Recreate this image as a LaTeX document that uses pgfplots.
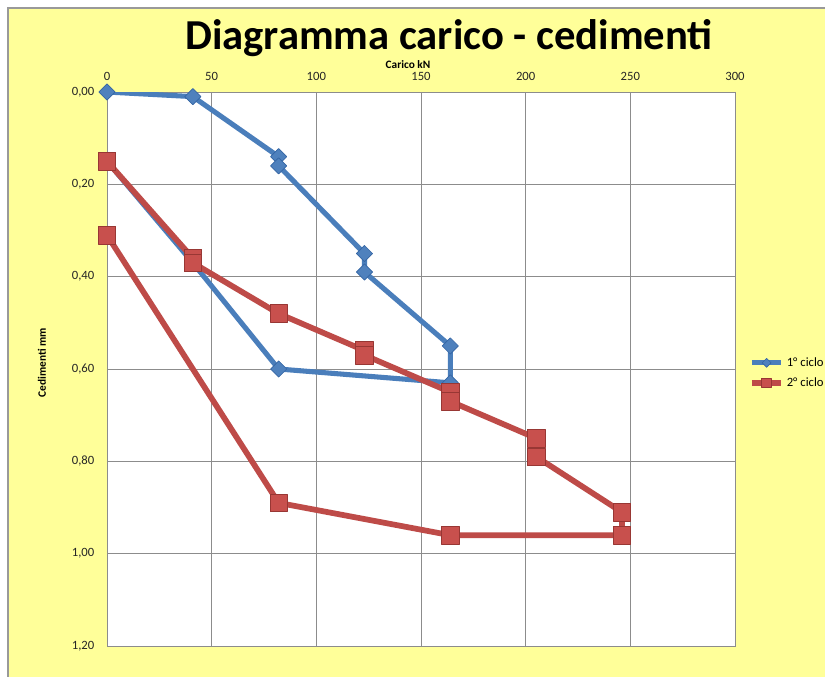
\documentclass[border=0pt]{standalone}
\usepackage{fontspec}
\setmainfont{Carlito}
\usepackage{pgfplots}
\pgfplotsset{compat=1.18}
\definecolor{chartyellow}{HTML}{FFFF99}
\definecolor{lineblue}{HTML}{4A7EBB}
\definecolor{markblue}{HTML}{4F81BD}
\definecolor{edgeblue}{HTML}{3465A4}
\definecolor{linered}{HTML}{BE4B48}
\definecolor{markred}{HTML}{C8504D}
\definecolor{edgered}{HTML}{983734}
\definecolor{gridgray}{HTML}{8C8C8C}
\begin{document}
\begin{tikzpicture}
\path[use as bounding box] (0,0) rectangle (618.75pt,507pt);
\filldraw[fill=chartyellow, draw=gray!80, line width=0.8pt] (6pt,-10pt) rectangle (630pt,501pt);
\node[anchor=base, inner sep=0pt, text depth=0pt, font=\fontsize{32}{38}\selectfont\bfseries] at (336.75pt,469.5pt) {Diagramma carico - cedimenti};
\node[anchor=base, inner sep=0pt, font=\fontsize{8.5}{10}\selectfont\bfseries] at (306pt,455.5pt) {Carico kN};
\node[rotate=90, anchor=center, font=\fontsize{8.5}{10}\selectfont\bfseries] at (31.5pt,235pt) {Cedimenti mm};
\begin{axis}[
  at={(80.25pt,22.5pt)}, anchor=south west,
  scale only axis, width=471pt, height=415.5pt,
  xmin=0, xmax=300, ymin=0, ymax=1.2,
  y dir=reverse,
  xtick={0,50,...,300},
  ytick={0,0.2,...,1.2},
  xticklabel pos=upper,
  major tick length=0pt,
  grid=major,
  grid style={gridgray, line width=0.6pt},
  axis line style={gridgray, line width=0.6pt},
  axis background/.style={fill=white},
  tick label style={font=\fontsize{9.5}{11}\selectfont, text=black!85},
  /pgf/number format/assume math mode=true,
  xticklabel style={yshift=8pt, inner sep=0pt},
  yticklabel style={xshift=-6pt, /pgf/number format/.cd, fixed, fixed zerofill, precision=2, use comma},
  scaled y ticks=false,
  legend style={at={(1.022,0.493)}, anchor=west, draw=none, fill=none,
    font=\fontsize{9.5}{11}\selectfont, row sep=3pt, inner sep=0pt},
  legend cell align=left,
  legend image code/.code={%
    \draw[mark repeat=2, mark phase=2, /tikz/every mark/.append style={scale=0.55}]
      plot coordinates {(0pt,0pt) (11pt,0pt) (22pt,0pt)};},
]
\addplot[lineblue, line width=3.8pt, line join=round,
  mark=square*, mark size=4.3pt,
  mark options={rotate=45, fill=markblue, draw=edgeblue, line width=0.5pt}]
  coordinates {(0,0) (41,0.01) (82,0.14) (82,0.16) (123,0.35) (123,0.39)
    (164,0.55) (164,0.63) (82,0.60) (41,0.37) (0,0.15)};
\addlegendentry{1° ciclo}
\addplot[linered, line width=4.3pt, line join=round,
  mark=square*, mark size=6.6pt,
  mark options={fill=markred, draw=edgered, line width=0.5pt}]
  coordinates {(0,0.15) (41,0.36) (41,0.37) (82,0.48) (123,0.56) (123,0.57)
    (164,0.65) (164,0.67) (205,0.75) (205,0.79) (246,0.91) (246,0.96)
    (164,0.96) (82,0.89) (0,0.31)};
\addlegendentry{2° ciclo}
\end{axis}
\end{tikzpicture}
\end{document}
